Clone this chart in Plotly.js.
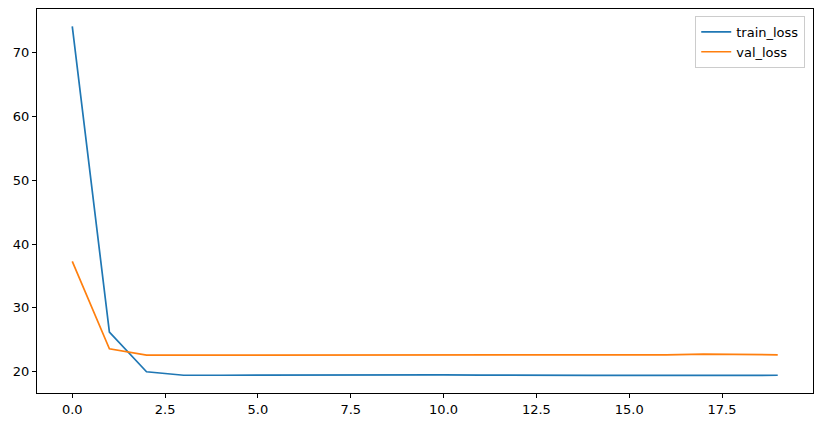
<!DOCTYPE html>
<html>
<head>
<meta charset="utf-8">
<script src="https://cdn.plot.ly/plotly-3.0.1.min.js"></script>
<style>html,body{margin:0;padding:0;background:#fff;}#chart{width:822px;height:428px;}</style>
</head>
<body>
<div id="chart"></div>
<script>
const epochs = [0,1,2,3,4,5,6,7,8,9,10,11,12,13,14,15,16,17,18,19];
const trainLoss = [74.1, 26.2, 20.0, 19.45, 19.45, 19.47, 19.52, 19.45, 19.45, 19.48, 19.52, 19.48, 19.5, 19.42, 19.42, 19.42, 19.43, 19.4, 19.45, 19.45];
const valLoss = [37.3, 23.6, 22.6, 22.6, 22.6, 22.58, 22.6, 22.62, 22.62, 22.62, 22.6, 22.62, 22.68, 22.62, 22.65, 22.62, 22.65, 22.75, 22.65, 22.65];
const seriesNames = ["train_loss", "val_loss"];
const xTicks = [0, 2.5, 5, 7.5, 10, 12.5, 15, 17.5];
const yTicks = [20, 30, 40, 50, 60, 70];

const font = {family: "DejaVu Sans", size: 13, color: "#000"};
const traces = [
  {x: epochs, y: trainLoss, name: seriesNames[0], type: "scatter", mode: "lines", line: {color: "#1f77b4", width: 1.7}},
  {x: epochs, y: valLoss, name: seriesNames[1], type: "scatter", mode: "lines", line: {color: "#ff7f0e", width: 1.7}}
];
const axisCommon = {
  showgrid: false, zeroline: false, showline: true, linecolor: "#000", linewidth: 1,
  mirror: true, ticks: "outside", ticklen: 4, tickwidth: 1, tickcolor: "#000",
  tickfont: font
};
const layout = {
  width: 822, height: 428,
  margin: {l: 37, r: 9.4, t: 9.3, b: 34.7},
  paper_bgcolor: "#fff", plot_bgcolor: "#fff",
  font: font,
  showlegend: true,
  xaxis: Object.assign({}, axisCommon, {range: [-0.95, 19.95], tickmode: "array", tickvals: xTicks, ticktext: xTicks.map(v => v.toFixed(1))}),
  yaxis: Object.assign({}, axisCommon, {range: [16.67, 76.83], tickmode: "array", tickvals: yTicks, ticktext: yTicks.map(String)}),
  legend: {x: 0.99, y: 0.982, xanchor: "right", yanchor: "top", bgcolor: "rgba(255,255,255,0.8)", bordercolor: "#cccccc", borderwidth: 1, font: font, tracegroupgap: 0}
};
Plotly.newPlot("chart", traces, layout, {displayModeBar: false, staticPlot: true});
</script>
</body>
</html>
